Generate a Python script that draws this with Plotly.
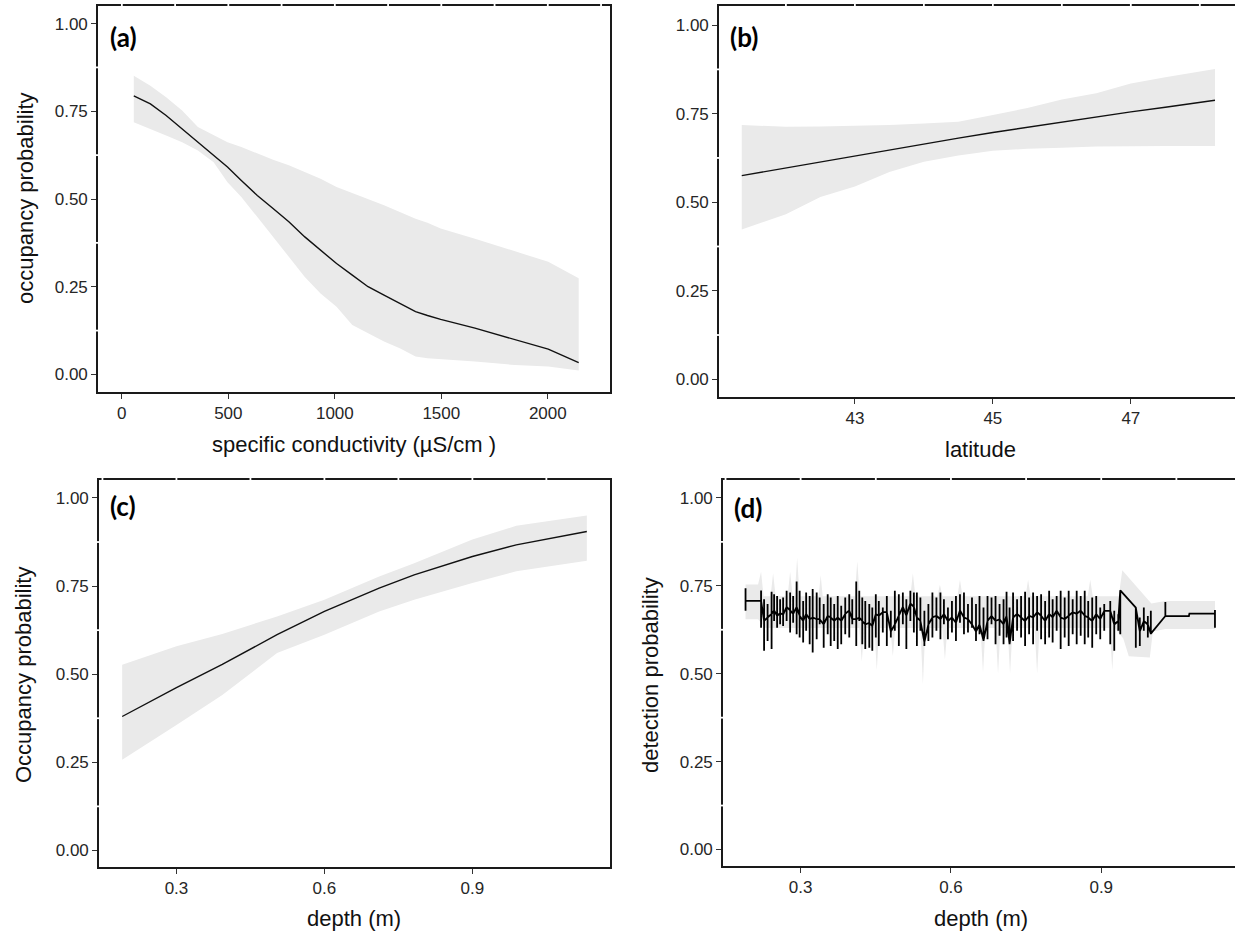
import plotly.graph_objects as go

# ---------------- data ----------------
# (a) occupancy vs specific conductivity
cond_x = [56, 134, 208, 283, 357, 431, 496, 561, 636, 710, 784, 859, 933, 1008,
          1082, 1156, 1231, 1305, 1379, 1435, 1497, 1658, 1844, 2002, 2145]
cond_fit = [0.794, 0.771, 0.738, 0.700, 0.662, 0.624, 0.591, 0.553, 0.510, 0.473,
            0.435, 0.392, 0.354, 0.316, 0.283, 0.250, 0.226, 0.203, 0.179, 0.168,
            0.157, 0.132, 0.100, 0.072, 0.034]
cond_hi = [0.851, 0.823, 0.790, 0.752, 0.705, 0.681, 0.662, 0.648, 0.629, 0.612,
           0.596, 0.577, 0.558, 0.534, 0.517, 0.498, 0.482, 0.463, 0.444, 0.432,
           0.416, 0.387, 0.352, 0.321, 0.274]
cond_lo = [0.719, 0.700, 0.681, 0.662, 0.638, 0.605, 0.548, 0.506, 0.449, 0.392,
           0.335, 0.278, 0.231, 0.193, 0.141, 0.117, 0.094, 0.075, 0.051, 0.046,
           0.044, 0.037, 0.027, 0.023, 0.011]

# (b) occupancy vs latitude
lat_x = [41.36, 42.0, 42.5, 43.0, 43.5, 44.0, 44.5, 45.0, 45.5, 46.0, 46.5, 47.0, 47.5, 48.22]
lat_fit = [0.575, 0.597, 0.614, 0.631, 0.648, 0.665, 0.681, 0.697, 0.712, 0.727,
           0.741, 0.755, 0.768, 0.788]
lat_hi = [0.718, 0.713, 0.714, 0.715, 0.718, 0.722, 0.727, 0.746, 0.766, 0.790,
          0.808, 0.835, 0.853, 0.876]
lat_lo = [0.423, 0.466, 0.515, 0.544, 0.585, 0.614, 0.632, 0.645, 0.651, 0.654,
          0.657, 0.659, 0.659, 0.659]

# (c) occupancy vs depth
depth_c = [0.19, 0.30, 0.393, 0.504, 0.60, 0.711, 0.782, 0.90, 0.989, 1.132]
occ_c_fit = [0.380, 0.462, 0.528, 0.612, 0.678, 0.744, 0.782, 0.834, 0.867, 0.905]
occ_c_hi = [0.527, 0.579, 0.614, 0.664, 0.711, 0.777, 0.815, 0.882, 0.921, 0.950]
occ_c_lo = [0.257, 0.356, 0.441, 0.560, 0.612, 0.678, 0.711, 0.759, 0.792, 0.822]

# (d) detection vs depth: repeated depths give vertical runs (top, bottom, level between runs)
det_depth = [0.190, 0.221, 0.227, 0.234, 0.242, 0.247, 0.253, 0.259, 0.265, 0.272,
             0.279, 0.285, 0.292, 0.298, 0.305, 0.311, 0.318, 0.324, 0.332, 0.338,
             0.346, 0.354, 0.360, 0.367, 0.374, 0.381, 0.389, 0.397, 0.403, 0.411,
             0.417, 0.423, 0.429, 0.437, 0.443, 0.450, 0.456, 0.464, 0.472, 0.480,
             0.488, 0.496, 0.504, 0.511, 0.519, 0.526, 0.532, 0.539, 0.547, 0.555,
             0.563, 0.571, 0.579, 0.586, 0.594, 0.602, 0.610, 0.618, 0.626, 0.634,
             0.642, 0.650, 0.657, 0.665, 0.673, 0.681, 0.689, 0.697, 0.705, 0.711,
             0.717, 0.724, 0.732, 0.740, 0.748, 0.756, 0.764, 0.772, 0.780, 0.788,
             0.796, 0.803, 0.811, 0.819, 0.827, 0.835, 0.843, 0.851, 0.859, 0.867,
             0.874, 0.882, 0.890, 0.898, 0.906, 0.918, 0.926, 0.934, 0.938, 0.969,
             0.977, 0.985, 0.993, 0.999, 1.028, 1.075, 1.076, 1.127]
det_top = [0.743, 0.737, 0.712, 0.698, 0.733, 0.726, 0.721, 0.712, 0.717, 0.736,
           0.731, 0.721, 0.762, 0.736, 0.707, 0.731, 0.721, 0.741, 0.731, 0.717,
           0.698, 0.726, 0.717, 0.698, 0.721, 0.693, 0.717, 0.726, 0.712, 0.762,
           0.736, 0.717, 0.707, 0.698, 0.688, 0.726, 0.707, 0.688, 0.721, 0.679,
           0.736, 0.726, 0.731, 0.712, 0.736, 0.731, 0.731, 0.717, 0.679, 0.698,
           0.731, 0.717, 0.731, 0.712, 0.688, 0.707, 0.721, 0.726, 0.731, 0.698,
           0.717, 0.698, 0.721, 0.688, 0.721, 0.717, 0.721, 0.698, 0.712, 0.733,
           0.688, 0.731, 0.712, 0.721, 0.733, 0.717, 0.731, 0.721, 0.726, 0.707,
           0.736, 0.712, 0.721, 0.736, 0.717, 0.736, 0.712, 0.736, 0.721, 0.736,
           0.707, 0.717, 0.721, 0.688, 0.698, 0.707, 0.679, 0.669, 0.737, 0.688,
           0.660, 0.688, 0.664, 0.679, 0.704, 0.664, 0.671, 0.681]
det_bot = [0.679, 0.631, 0.565, 0.593, 0.570, 0.650, 0.631, 0.641, 0.636, 0.650,
           0.617, 0.645, 0.612, 0.603, 0.589, 0.622, 0.584, 0.560, 0.598, 0.641,
           0.574, 0.612, 0.579, 0.593, 0.570, 0.584, 0.612, 0.603, 0.641, 0.579,
           0.650, 0.584, 0.570, 0.574, 0.565, 0.603, 0.579, 0.617, 0.579, 0.603,
           0.622, 0.579, 0.641, 0.570, 0.650, 0.617, 0.579, 0.622, 0.579, 0.593,
           0.603, 0.622, 0.598, 0.641, 0.598, 0.617, 0.593, 0.645, 0.612, 0.617,
           0.631, 0.593, 0.612, 0.593, 0.598, 0.641, 0.584, 0.608, 0.584, 0.603,
           0.584, 0.593, 0.622, 0.603, 0.579, 0.612, 0.584, 0.622, 0.598, 0.584,
           0.603, 0.589, 0.622, 0.570, 0.603, 0.579, 0.612, 0.584, 0.608, 0.584,
           0.603, 0.574, 0.612, 0.598, 0.622, 0.584, 0.565, 0.622, 0.612, 0.574,
           0.579, 0.622, 0.603, 0.612, 0.664, 0.664, 0.671, 0.631]
det_mid = [0.707, 0.707, 0.650, 0.660, 0.670, 0.680, 0.665, 0.672, 0.668, 0.690,
           0.680, 0.670, 0.690, 0.665, 0.650, 0.670, 0.655, 0.660, 0.655, 0.655,
           0.640, 0.665, 0.660, 0.650, 0.660, 0.650, 0.670, 0.680, 0.655, 0.655,
           0.660, 0.650, 0.640, 0.645, 0.635, 0.670, 0.665, 0.675, 0.675, 0.620,
           0.640, 0.665, 0.690, 0.665, 0.700, 0.690, 0.660, 0.650, 0.590, 0.640,
           0.660, 0.665, 0.655, 0.670, 0.650, 0.660, 0.645, 0.680, 0.660, 0.655,
           0.640, 0.620, 0.640, 0.595, 0.650, 0.665, 0.650, 0.655, 0.640, 0.665,
           0.585, 0.660, 0.670, 0.660, 0.650, 0.665, 0.660, 0.675, 0.665, 0.650,
           0.670, 0.660, 0.680, 0.660, 0.655, 0.665, 0.675, 0.670, 0.680, 0.665,
           0.660, 0.650, 0.670, 0.655, 0.679, 0.679, 0.640, 0.650, 0.737, 0.688,
           0.620, 0.650, 0.640, 0.614, 0.664, 0.664, 0.671, 0.671]
# (d) confidence band: upper and lower edges
det_hi_x = [0.190, 0.215, 0.221, 0.226, 0.240, 0.245, 0.250, 0.274, 0.279, 0.284,
            0.288, 0.293, 0.298, 0.336, 0.340, 0.344, 0.408, 0.413, 0.418, 0.519,
            0.524, 0.529, 0.573, 0.578, 0.583, 0.613, 0.618, 0.623, 0.749, 0.754,
            0.759, 0.873, 0.878, 0.883, 0.935, 0.942, 1.000, 1.028, 1.127]
det_hi_y = [0.754, 0.754, 0.790, 0.720, 0.720, 0.786, 0.720, 0.720, 0.790, 0.720,
            0.720, 0.830, 0.720, 0.720, 0.780, 0.720, 0.720, 0.820, 0.720, 0.720,
            0.786, 0.720, 0.720, 0.753, 0.720, 0.720, 0.767, 0.720, 0.720, 0.767,
            0.720, 0.720, 0.767, 0.720, 0.720, 0.794, 0.700, 0.707, 0.707]
det_lo_x = [0.190, 0.215, 0.230, 0.417, 0.422, 0.427, 0.447, 0.452, 0.457, 0.479,
            0.484, 0.489, 0.539, 0.544, 0.549, 0.583, 0.588, 0.593, 0.659, 0.664,
            0.669, 0.689, 0.694, 0.699, 0.713, 0.718, 0.723, 0.767, 0.772, 0.777,
            0.917, 0.922, 0.927, 0.944, 0.955, 0.997, 1.003, 1.028, 1.127]
det_lo_y = [0.655, 0.655, 0.630, 0.630, 0.535, 0.630, 0.630, 0.510, 0.630, 0.630,
            0.550, 0.630, 0.630, 0.470, 0.630, 0.630, 0.540, 0.630, 0.630, 0.503,
            0.630, 0.630, 0.500, 0.630, 0.630, 0.500, 0.630, 0.630, 0.500, 0.630,
            0.630, 0.510, 0.630, 0.600, 0.550, 0.546, 0.620, 0.627, 0.627]

prob_ticks = [0.0, 0.25, 0.5, 0.75, 1.0]
prob_minor = [0.125, 0.375, 0.625, 0.875]
cond_ticks = [0, 500, 1000, 1500, 2000]
cond_grid = [0, 250, 500, 750, 1000, 1250, 1500, 1750, 2000, 2250]
lat_ticks = [43, 45, 47]
lat_grid = [42, 43, 44, 45, 46, 47, 48]
depth_ticks = [0.3, 0.6, 0.9]
depth_grid = [0.15, 0.3, 0.45, 0.6, 0.75, 0.9, 1.05]

RIB = "#EAEAEA"
LINE = "#111111"

fig = go.Figure()


def band(x, lo, hi, xa, ya):
    fig.add_trace(go.Scatter(x=list(x) + list(x)[::-1], y=list(hi) + list(lo)[::-1],
                             fill="toself", fillcolor=RIB, line=dict(width=0),
                             mode="lines", hoverinfo="skip", showlegend=False,
                             xaxis=xa, yaxis=ya))


def curve(x, y, xa, ya, w=1.4, color=LINE):
    fig.add_trace(go.Scatter(x=x, y=y, mode="lines", line=dict(color=color, width=w),
                             showlegend=False, xaxis=xa, yaxis=ya))


band(cond_x, cond_lo, cond_hi, "x", "y")
curve(cond_x, cond_fit, "x", "y")
band(lat_x, lat_lo, lat_hi, "x2", "y2")
curve(lat_x, lat_fit, "x2", "y2")
band(depth_c, occ_c_lo, occ_c_hi, "x3", "y3")
curve(depth_c, occ_c_fit, "x3", "y3")

# (d) band polygon
fig.add_trace(go.Scatter(x=det_hi_x + det_lo_x[::-1], y=det_hi_y + det_lo_y[::-1],
                         fill="toself", fillcolor=RIB, line=dict(width=0), mode="lines",
                         hoverinfo="skip", showlegend=False, xaxis="x4", yaxis="y4"))
# (d) path through repeated depths
px, py = [], []
for xv, t, b, m in zip(det_depth, det_top, det_bot, det_mid):
    px += [xv, xv, xv, xv]
    py += [m, t, b, m]
curve(px, py, "x4", "y4", w=1.8, color="black")

W, H = 1235, 937
TICKF = dict(family="Liberation Sans, Arial, sans-serif", size=17, color="#262626")


def ax(domain, rng, tickvals, fmt, mirror=True):
    return dict(domain=domain, range=rng, tickvals=tickvals, tickformat=fmt,
                showline=True, linecolor="#1a1a1a", linewidth=1.6, mirror=mirror,
                ticks="outside", ticklen=5, tickwidth=1.1, tickcolor="#333333",
                showgrid=False, zeroline=False, tickfont=TICKF, fixedrange=True)


fig.update_layout(
    width=W, height=H, margin=dict(l=0, r=0, t=0, b=0),
    paper_bgcolor="white", plot_bgcolor="white",
    xaxis=ax([98 / W, 610 / W], [-112, 2292], cond_ticks, "d"),
    yaxis=ax([1 - 392 / H, 1 - 6 / H], [-0.05, 1.05], prob_ticks, ".2f"),
    xaxis2=ax([719 / W, 1.0], [41.03, 48.51], lat_ticks, "d"),
    yaxis2=ax([1 - 397 / H, 1 - 6 / H], [-0.05, 1.054], prob_ticks, ".2f", mirror=False),
    xaxis3=ax([99 / W, 610 / W], [0.143, 1.179], depth_ticks, ".1f"),
    yaxis3=ax([1 - 867 / H, 1 - 480 / H], [-0.047, 1.051], prob_ticks, ".2f"),
    xaxis4=ax([723 / W, 1.0], [0.145, 1.167], depth_ticks, ".1f"),
    yaxis4=ax([1 - 866 / H, 1 - 480 / H], [-0.047, 1.051], prob_ticks, ".2f", mirror=False),
)
fig.layout.yaxis.anchor = "x"
fig.layout.xaxis.anchor = "y"
fig.layout.xaxis2.anchor = "y2"
fig.layout.yaxis2.anchor = "x2"
fig.layout.xaxis3.anchor = "y3"
fig.layout.yaxis3.anchor = "x3"
fig.layout.xaxis4.anchor = "y4"
fig.layout.yaxis4.anchor = "x4"

# white gaps where the background grid meets the panel frame
shapes = []
for xs, grid in [("x", cond_grid), ("x2", lat_grid), ("x3", depth_grid), ("x4", depth_grid)]:
    ys = xs.replace("x", "y")
    for g in grid:
        shapes.append(dict(type="line", xref=xs, yref=ys + " domain", x0=g, x1=g,
                           y0=0.994, y1=1.006, line=dict(color="white", width=1.8),
                           layer="above"))
    for m in prob_minor:
        shapes.append(dict(type="line", xref=xs + " domain", yref=ys, x0=-0.006, x1=0.006,
                           y0=m, y1=m, line=dict(color="white", width=1.8), layer="above"))
fig.update_layout(shapes=shapes)

TITLEF = dict(family="Liberation Sans, Arial, sans-serif", size=22, color="#111111")
LABF = dict(family="Lato, Open Sans, sans-serif", size=26, color="black")
ann = []


def txt(x, y, s, font, angle=0, xanchor="center"):
    ann.append(dict(x=x / W, y=1 - y / H, xref="paper", yref="paper", text=s, showarrow=False,
                    font=font, textangle=angle, xanchor=xanchor, yanchor="middle"))


txt(25, 198, "occupancy probability", TITLEF, -90)
txt(354, 445, "specific conductivity (µS/cm )", TITLEF)
txt(980, 449, "latitude", TITLEF)
txt(23, 675, "Occupancy probability", TITLEF, -90)
txt(354, 918, "depth (m)", TITLEF)
txt(650, 675, "detection probability", TITLEF, -90)
txt(981, 918, "depth (m)", TITLEF)
txt(108, 37, "<b>(a)</b>", LABF, xanchor="left")
txt(728, 37, "<b>(b)</b>", LABF, xanchor="left")
txt(108, 506, "<b>(c)</b>", LABF, xanchor="left")
txt(732, 508, "<b>(d)</b>", LABF, xanchor="left")
fig.update_layout(annotations=ann)

# remove the browser's default 8px page margin so the figure sits at the page origin
fig.write_html("out.html", config={"displayModeBar": False},
               post_script="document.body.style.margin='0';")
